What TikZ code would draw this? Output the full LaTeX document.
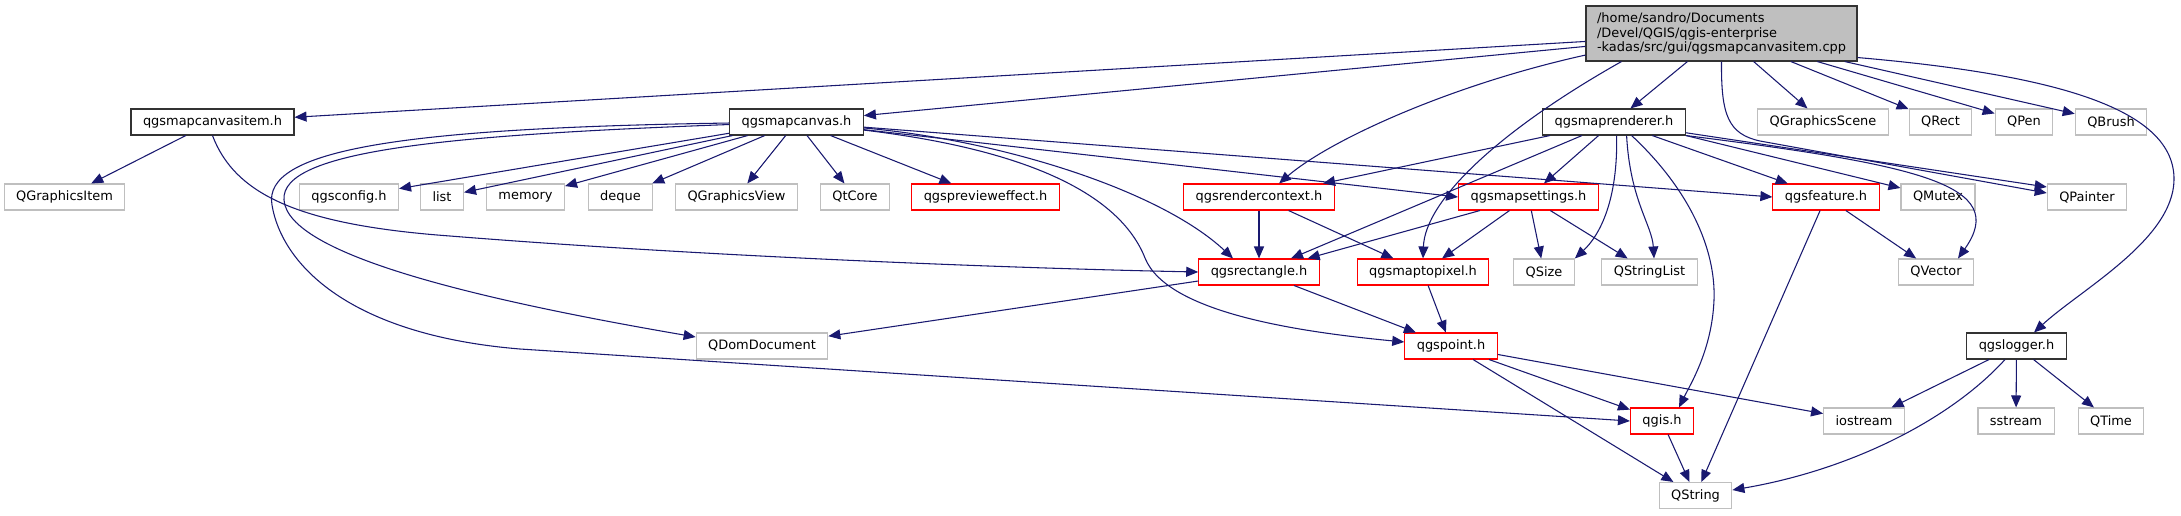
\documentclass[tikz,border=0pt]{standalone}
\usepackage{fontspec}
\setmainfont{DejaVu Sans}
\usetikzlibrary{arrows.meta, calc}

\definecolor{depblue}{HTML}{191970}
\definecolor{boxgrey}{HTML}{BFBFBF}

\begin{document}
\begin{tikzpicture}[
  x=0.75pt, y=-0.75pt,
  font=\fontsize{9.7}{10.65}\selectfont,
  filebox/.style={
    rectangle,
    draw=black!80,
    fill=white,
    line width=0.8pt,
    minimum height=19.5pt,
    inner xsep=9pt,
    inner ysep=0pt,
  },
  redbox/.style={filebox, draw=red},
  greybox/.style={filebox, draw=boxgrey},
  dep/.style={draw=depblue, line width=0.8pt, -{Triangle[length=9pt, width=7.5pt]}},
]
\path[fill=white] (0,0) rectangle (2181,515);

% --- root file ---
\node[filebox, fill=boxgrey, align=left, minimum width=203.25pt, minimum height=41.25pt, inner xsep=8pt] (CanvasItemCpp) at (1721.5,33.5)
  {/home/sandro/Documents\\/Devel/QGIS/qgis-enterprise\\-kadas/src/gui/qgsmapcanvasitem.cpp};

% --- direct includes ---
\node[filebox] (CanvasItemH) at (212.5,122) {qgsmapcanvasitem.h};
\node[filebox] (MapCanvas) at (796.5,122) {qgsmapcanvas.h};
\node[filebox] (MapRenderer) at (1614,122) {qgsmaprenderer.h};
\node[greybox] (QGraphicsScene) at (1823,122) {QGraphicsScene};
\node[greybox] (QRect) at (1940.5,122) {QRect};
\node[greybox] (QPen) at (2024,122) {QPen};
\node[greybox] (QBrush) at (2111,122) {QBrush};

% --- second level ---
\node[greybox] (QGraphicsItem) at (64.5,197) {QGraphicsItem};
\node[greybox] (QgsConfig) at (349,197) {qgsconfig.h};
\node[greybox] (List) at (442,197) {list};
\node[greybox] (Memory) at (525.5,197) {memory};
\node[greybox] (Deque) at (620.5,197) {deque};
\node[greybox] (QGraphicsView) at (736.5,197) {QGraphicsView};
\node[greybox] (QtCore) at (855,197) {QtCore};
\node[redbox] (PreviewEffect) at (985.5,197) {qgsprevieweffect.h};
\node[redbox] (RenderContext) at (1259,197) {qgsrendercontext.h};
\node[redbox] (MapSettings) at (1528.5,197) {qgsmapsettings.h};
\node[redbox] (Feature) at (1826,197) {qgsfeature.h};
\node[greybox] (QMutex) at (1938,197) {QMutex};
\node[greybox] (QPainter) at (2087,197) {QPainter};

% --- third level ---
\node[redbox] (Rectangle) at (1259,272) {qgsrectangle.h};
\node[redbox] (MapToPixel) at (1423,272) {qgsmaptopixel.h};
\node[greybox] (QSize) at (1544,272) {QSize};
\node[greybox] (QStringList) at (1649.5,272) {QStringList};
\node[greybox] (QVector) at (1936,272) {QVector};

\node[greybox] (QDomDocument) at (762,346) {QDomDocument};
\node[redbox] (Point) at (1451,346) {qgspoint.h};
\node[filebox] (Logger) at (2016.5,346) {qgslogger.h};

\node[redbox] (Qgis) at (1662,421) {qgis.h};
\node[greybox] (IOStream) at (1864,421) {iostream};
\node[greybox] (SStream) at (2016,421) {sstream};
\node[greybox] (QTime) at (2111,421) {QTime};

\node[greybox] (QString) at (1695.5,495.5) {QString};

% --- qgsmapcanvasitem.cpp ---
\draw[dep] (CanvasItemCpp) -- (CanvasItemH);
\draw[dep] (CanvasItemCpp) -- (MapCanvas);
\draw[dep] (CanvasItemCpp.189) .. controls (1450,85) and (1330,140) .. ($(RenderContext.north)+(20,0)$);
\draw[dep] ($(CanvasItemCpp.south)+(-100,0)$) .. controls (1500,130) and (1425,200) .. (MapToPixel.north);
\draw[dep] (CanvasItemCpp) -- (MapRenderer);
\draw[dep] (CanvasItemCpp.south) .. controls (1721,115) and (1728,134) .. (1760,141) -- ($(QPainter.west)+(0,-4)$);
\draw[dep] (CanvasItemCpp) -- (QGraphicsScene);
\draw[dep] (CanvasItemCpp) -- (QRect);
\draw[dep] (CanvasItemCpp) -- (QPen);
\draw[dep] (CanvasItemCpp) -- (QBrush);
\draw[dep] ($(CanvasItemCpp.south east)+(0,-4)$) .. controls (2060,75) and (2175,110) .. (2174,180)
  .. controls (2173,240) and (2080,290) .. ($(Logger.north)+(17.5,0)$);

% --- qgsmapcanvasitem.h ---
\draw[dep] (CanvasItemH) -- (QGraphicsItem);
\draw[dep] (CanvasItemH.south) .. controls (235,195) and (300,225) .. (450,236)
  .. controls (700,256) and (1000,268) .. (Rectangle.west);

% --- qgsmapcanvas.h ---
\draw[dep] (MapCanvas) -- (QgsConfig);
\draw[dep] (MapCanvas) -- (List);
\draw[dep] (MapCanvas) -- (Memory);
\draw[dep] (MapCanvas) -- (Deque);
\draw[dep] (MapCanvas) -- (QGraphicsView);
\draw[dep] (MapCanvas) -- (QtCore);
\draw[dep] (MapCanvas) -- (PreviewEffect);
\draw[dep] (MapCanvas) .. controls (450,135) and (280,150) .. (284,200)
  .. controls (288,255) and (480,300) .. ($(QDomDocument.west)+(0,-9)$);
\draw[dep] (MapCanvas) .. controls (400,128) and (262,150) .. (272,205)
  .. controls (282,265) and (350,335) .. (520,349) -- (Qgis.west);
\draw[dep] (MapCanvas) .. controls (1000,140) and (1160,190) .. ($(Rectangle.north)+(-26,0)$);
\draw[dep] (MapCanvas) .. controls (1030,150) and (1120,195) .. (1145,258)
  .. controls (1167,313) and (1300,332) .. ($(Point.west)+(0,-4)$);
\draw[dep] (MapCanvas) -- (MapSettings.west);
\draw[dep] (MapCanvas) -- (Feature.west);

% --- qgsmaprenderer.h ---
\draw[dep] (MapRenderer) -- (RenderContext);
\draw[dep] (MapRenderer) -- (Rectangle);
\draw[dep] (MapRenderer) -- (MapSettings);
\draw[dep] ($(MapRenderer.south)+(2.6,0)$) .. controls (1618,200) and (1600,235) .. (QSize.north east);
\draw[dep] ($(MapRenderer.south)+(12.6,0)$) .. controls (1630,200) and (1652,225) .. ($(QStringList.north)+(4.5,0)$);
\draw[dep] ($(MapRenderer.south)+(17.6,0)$) .. controls (1690,190) and (1716,250) .. (1714,300)
  .. controls (1712,350) and (1690,385) .. ($(Qgis.north)+(17,0)$);
\draw[dep] (MapRenderer) -- (Feature);
\draw[dep] (MapRenderer.south east) -- ($(QMutex.west)+(0,-9)$);
\draw[dep] (MapRenderer) -- ($(QPainter.west)+(0,-10)$);
\draw[dep] (MapRenderer.south east) .. controls (1920,165) and (2010,185) .. ($(QVector.north)+(22,0)$);

% --- qgsmapsettings.h / qgsrendercontext.h / qgsfeature.h ---
\draw[dep] (MapSettings) -- (Rectangle);
\draw[dep] (MapSettings) -- (MapToPixel);
\draw[dep] (MapSettings) -- (QSize);
\draw[dep] (MapSettings) -- (QStringList);
\draw[dep] (RenderContext) -- (Rectangle);
\draw[dep] (RenderContext) -- (MapToPixel);
\draw[dep] (Feature) -- (QString);
\draw[dep] (Feature) -- (QVector);

% --- qgsrectangle.h / qgsmaptopixel.h / qgspoint.h / qgis.h ---
\draw[dep] (Rectangle) -- (QDomDocument);
\draw[dep] (Rectangle) -- (Point);
\draw[dep] (MapToPixel) -- (Point);
\draw[dep] (Point) -- (Qgis);
\draw[dep] (Point) -- (QString);
\draw[dep] (Point) -- (IOStream);
\draw[dep] (Qgis) -- (QString);

% --- qgslogger.h ---
\draw[dep] (Logger) -- (IOStream);
\draw[dep] ($(Logger.south)+(-11.5,0)$) .. controls (1950,420) and (1850,470) .. ($(QString.east)+(0,-5.5)$);
\draw[dep] (Logger) -- (SStream);
\draw[dep] (Logger) -- (QTime);
\end{tikzpicture}
\end{document}
